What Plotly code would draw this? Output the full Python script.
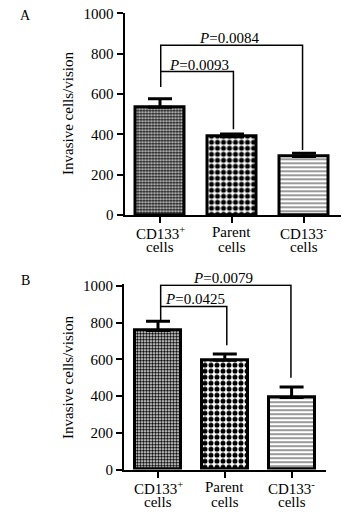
import plotly.graph_objects as go

# ---- data ----
categories = ["CD133+ cells", "Parent cells", "CD133- cells"]
line1_labels = ["CD133<sup>+</sup>", "Parent", "CD133<sup>-</sup>"]
line2_labels = ["cells", "cells", "cells"]

a_values = [534, 388, 290]
a_err_top = [576, 401, 306]
b_values = [757, 596, 392]
b_err_top = [808, 629, 449]

y_ticks = [0, 200, 400, 600, 800, 1000]

# brackets: (left_x, right_x, bar_y, left_bottom, right_bottom, label, label_x)
a_brackets = [
    (0.01, 1.98, 842, 634, 322, "<i>P</i>=0.0084", 0.96),
    (0.01, 1.02, 711, 711, 425, "<i>P</i>=0.0093", 0.54),
]
b_brackets = [
    (0.04, 1.99, 1004, 815, 500, "<i>P</i>=0.0079", 0.97),
    (0.04, 1.03, 889, 889, 677, "<i>P</i>=0.0425", 0.55),
]

FONT = "Liberation Serif, Times New Roman, serif"
W, H = 354, 512
OX, OY = 8, 8  # page body margin compensation


def px(x):
    return (x - OX) / W


def py(y):
    return 1 - (y - OY) / H


patterns = [
    dict(shape=".", size=3, solidity=0.6, fgcolor="black", bgcolor="white"),
    dict(shape=".", size=6, solidity=0.55, fgcolor="black", bgcolor="white"),
    dict(shape="-", size=4, solidity=0.3, fgcolor="#555555", bgcolor="white"),
]

fig = go.Figure()

xs = [0, 1, 2]


def add_panel(values, err_top, xa, ya, bw):
    for i in range(3):
        fig.add_trace(go.Bar(
            x=[xs[i]], y=[values[i]], width=bw,
            marker=dict(color="white", line=dict(color="black", width=3),
                        pattern=patterns[i]),
            error_y=dict(type="data", symmetric=False,
                         array=[err_top[i] - values[i]], arrayminus=[0],
                         color="black", thickness=3, width=12),
            xaxis=xa, yaxis=ya, showlegend=False,
        ))


add_panel(a_values, a_err_top, "x", "y", 0.68)
add_panel(b_values, b_err_top, "x2", "y2", 0.69)


def ax_common():
    return dict(showline=True, linecolor="black", linewidth=2,
                ticks="outside", ticklen=6, tickwidth=2, tickcolor="black",
                showgrid=False, zeroline=False, fixedrange=True, automargin=False,
                ticklabeloverflow="allow")


fig.update_layout(
    template="none",
    width=W, height=H, margin=dict(l=0, r=0, t=0, b=0, pad=0, autoexpand=False),
    paper_bgcolor="white", plot_bgcolor="white",
    font=dict(family=FONT, size=15, color="black"),
    bargap=0,
    xaxis=dict(domain=[px(124.5), px(341)], range=[-0.493, 2.514],
               tickvals=xs, showticklabels=False, anchor="y", **ax_common()),
    yaxis=dict(domain=[py(215), py(13.3)], range=[0, 1000],
               tickvals=y_ticks, anchor="x", tickfont=dict(size=15), **ax_common()),
    xaxis2=dict(domain=[px(124), px(326)], range=[-0.509, 2.515],
                tickvals=xs, showticklabels=False, anchor="y2", **ax_common()),
    yaxis2=dict(domain=[py(469.5), py(284.2)], range=[0, 1010],
                tickvals=y_ticks, anchor="x2", tickfont=dict(size=15), **ax_common()),
)

annotations = []
shapes = []


def add_brackets(brs, xr, yr):
    for (lx, rx, by, lb, rb, label, lxc) in brs:
        shapes.append(dict(type="path", xref=xr, yref=yr,
                           path=f"M {lx},{lb} L {lx},{by} L {rx},{by} L {rx},{rb}",
                           line=dict(color="black", width=1.5), layer="above"))
        annotations.append(dict(x=lxc, y=by, xref=xr, yref=yr, text=label,
                                showarrow=False, xanchor="center", yanchor="bottom",
                                yshift=-3, font=dict(size=15)))


add_brackets(a_brackets, "x", "y")
add_brackets(b_brackets, "x2", "y2")


def add_cat_labels(xr, yr, y1shift):
    for i in range(3):
        annotations.append(dict(x=xs[i], y=0, xref=xr, yref=yr, text=line1_labels[i],
                                showarrow=False, xanchor="center", yanchor="top",
                                yshift=y1shift, font=dict(size=15)))
        annotations.append(dict(x=xs[i], y=0, xref=xr, yref=yr, text=line2_labels[i],
                                showarrow=False, xanchor="center", yanchor="top",
                                yshift=y1shift - 15, font=dict(size=15)))


add_cat_labels("x", "y", -7)
add_cat_labels("x2", "y2", -7)

# y-axis titles
for yc in (114, 378):
    annotations.append(dict(x=px(68), y=py(yc), xref="paper", yref="paper",
                            text="Invasive cells/vision", textangle=-90, showarrow=False,
                            xanchor="center", yanchor="middle", font=dict(size=15)))
# panel letters
for letter, yc in (("A", 15), ("B", 280)):
    annotations.append(dict(x=px(25), y=py(yc), xref="paper", yref="paper", text=letter,
                            showarrow=False, xanchor="center", yanchor="middle",
                            font=dict(size=14)))

fig.update_layout(annotations=annotations, shapes=shapes)
fig.write_html("out.html")
